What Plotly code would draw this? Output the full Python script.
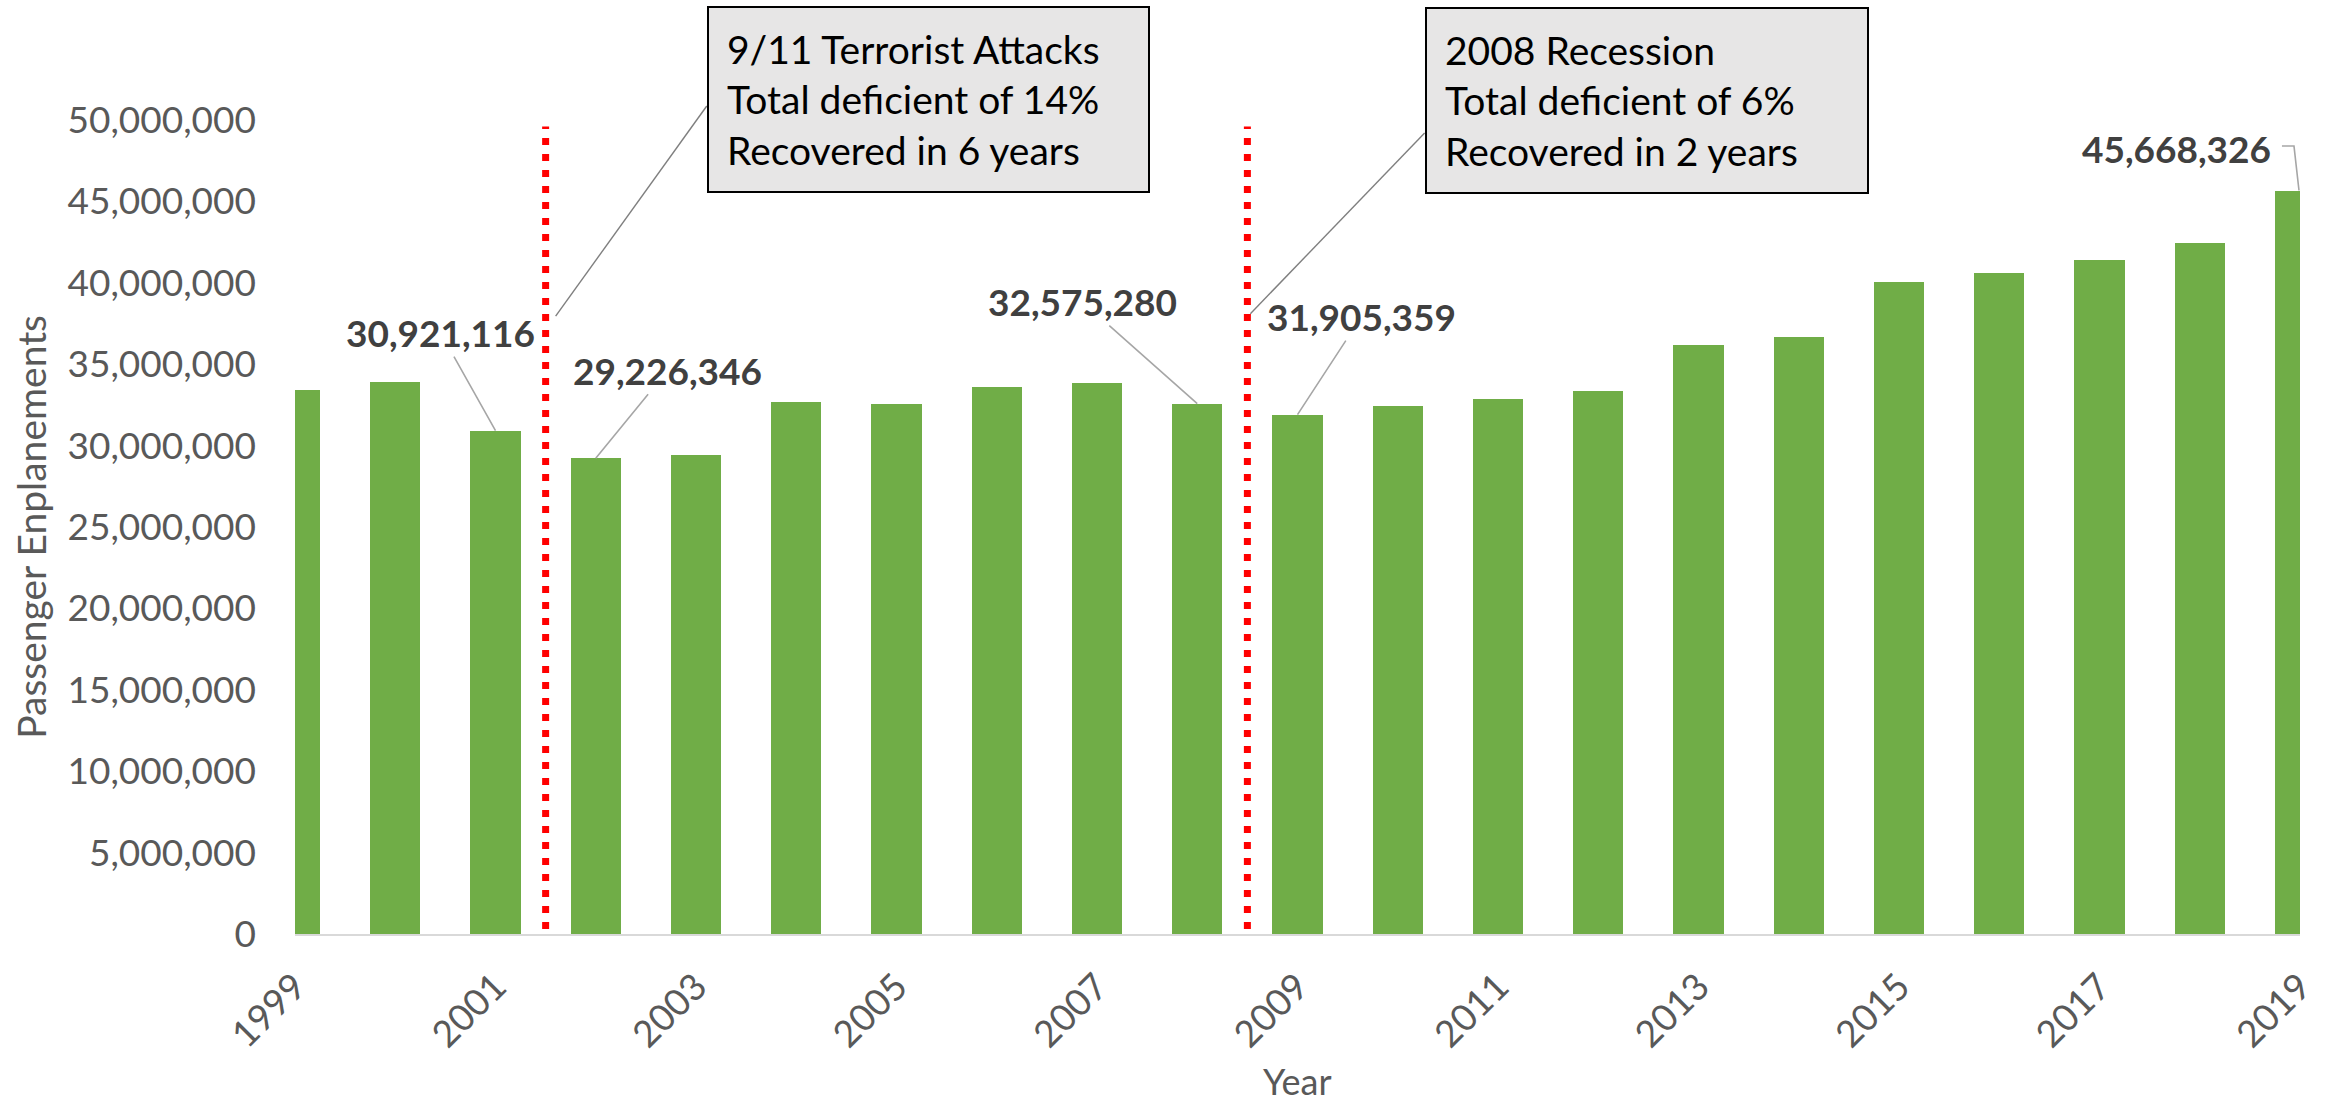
import plotly.graph_objects as go

# ---------------- data ----------------
years = list(range(1999, 2020))
enplanements = [33440000, 33880000, 30921116, 29226346, 29440000, 32680000, 32560000,
                33570000, 33870000, 32575280, 31905359, 32430000, 32850000, 33370000,
                36180000, 36690000, 40070000, 40620000, 41430000, 42460000, 45668326]
tick_years = list(range(1999, 2020, 2))
labelled_years = [2001, 2002, 2008, 2009, 2019]
event_x = [2001.5, 2008.5]
event_texts = ["9/11 Terrorist Attacks<br>Total deficient of 14%<br>Recovered in 6 years",
               "2008 Recession<br>Total deficient of 6%<br>Recovered in 2 years"]

# ---------------- geometry ----------------
W, H = 2331, 1106
ML, MR, MT, MB = 295, 25, 120, 172
PW, PH = W - ML - MR, H - MT - MB
X0, X1 = 1999, 2019
YMAX = 50_000_000

def px_to_paper(px, py):
    return (px - ML) / PW, (H - MB - py) / PH

def data_to_paper(x, y):
    return (x - X0) / (X1 - X0), y / YMAX

FONT = "Lato, 'Open Sans', sans-serif"
GREY = "#595959"
LABEL = "#404040"

fig = go.Figure()
fig.add_bar(x=years, y=enplanements, width=0.5,
            marker=dict(color="#70AD47", line=dict(width=0)),
            hoverinfo="x+y")

# data labels with leader lines
val = dict(zip(years, enplanements))
offsets = {2001: (-55, -98), 2002: (72, -88), 2008: (-115, -102), 2009: (64, -98)}
for yr in labelled_years[:-1]:
    ax, ay = offsets[yr]
    fig.add_annotation(x=yr, y=val[yr], xref="x", yref="y", text=f"<b>{val[yr]:,}</b>",
                       showarrow=True, arrowhead=0, arrowwidth=1.6, arrowcolor="#A6A6A6",
                       ax=ax, ay=ay, standoff=0,
                       font=dict(family=FONT, size=37, color=LABEL))

last = labelled_years[-1]
fig.add_annotation(x=last, y=val[last], xref="x", yref="y", text=f"<b>{val[last]:,}</b>",
                   showarrow=False, xanchor="center", yanchor="middle",
                   xshift=-124, yshift=42,
                   font=dict(family=FONT, size=37, color=LABEL))
# elbow leader for last label
fig.add_shape(type="path", xref="x", yref="y",
              path=f"M {last-0.18},{48.4e6} L {last-0.06},{48.4e6} L {last-0.01},{val[last]}",
              line=dict(color="#A6A6A6", width=1.6))

# event lines
for ex in event_x:
    fig.add_shape(type="line", xref="x", yref="y", x0=ex, x1=ex, y0=300000, y1=49_600_000,
                  line=dict(color="#FF0000", width=7, dash="7px,9px"))

# event boxes
boxes = [(708, 6, 443, 187), (1428, 7, 444, 187)]
box_leaders = [((708, 106), (2001.6, 37.95e6)), ((1428, 133), (2008.53, 38.1e6))]
BW, BP = 2, 18
for (bx, by, bw, bh), txt in zip(boxes, event_texts):
    xp, yp = px_to_paper(bx, by)
    fig.add_annotation(x=xp, y=yp, xref="paper", yref="paper", xanchor="left", yanchor="top",
                       text=txt, showarrow=False, align="left", valign="middle",
                       width=bw - 2 * (BW + BP), height=bh - 2 * (BW + BP),
                       bgcolor="#E7E6E6", bordercolor="#000000", borderwidth=BW, borderpad=BP,
                       font=dict(family=FONT, size=39, color="#000000"))
for (p0, d1) in box_leaders:
    x0p, y0p = px_to_paper(*p0)
    x1p, y1p = data_to_paper(*d1)
    fig.add_shape(type="line", xref="paper", yref="paper", x0=x0p, y0=y0p, x1=x1p, y1=y1p,
                  line=dict(color="#7F7F7F", width=1.4))

# axis titles
tx, _ = px_to_paper(30, 0)
fig.add_annotation(x=tx, y=0.5, xref="paper", yref="paper", text="Passenger Enplanements",
                   textangle=-90, showarrow=False, xanchor="center", yanchor="middle",
                   font=dict(family=FONT, size=39, color=GREY))
_, yy = px_to_paper(0, 1081)
fig.add_annotation(x=0.5, y=yy, xref="paper", yref="paper", text="Year",
                   showarrow=False, xanchor="center", yanchor="middle",
                   font=dict(family=FONT, size=36, color=GREY))

fig.update_layout(
    width=W, height=H,
    margin=dict(l=ML, r=MR, t=MT, b=MB, pad=0),
    paper_bgcolor="white", plot_bgcolor="white",
    showlegend=False, bargap=0,
    font=dict(family=FONT, size=37, color=GREY),
    xaxis=dict(range=[X0, X1], tickmode="array", tickvals=tick_years,
               ticktext=[str(t) for t in tick_years], tickangle=-45,
               showgrid=False, zeroline=False, showline=True, linecolor="#D9D9D9",
               linewidth=2, ticks="", ticklabelstandoff=14,
               tickfont=dict(family=FONT, size=37, color=GREY)),
    yaxis=dict(range=[0, YMAX], dtick=5_000_000, tickformat=",d", showgrid=False,
               zeroline=False, showline=False, ticks="", ticklabelstandoff=38,
               tickfont=dict(family=FONT, size=37, color=GREY)),
)

fig.write_html("out.html", config={"displayModeBar": False},
               post_script="document.body.style.margin='0';")
